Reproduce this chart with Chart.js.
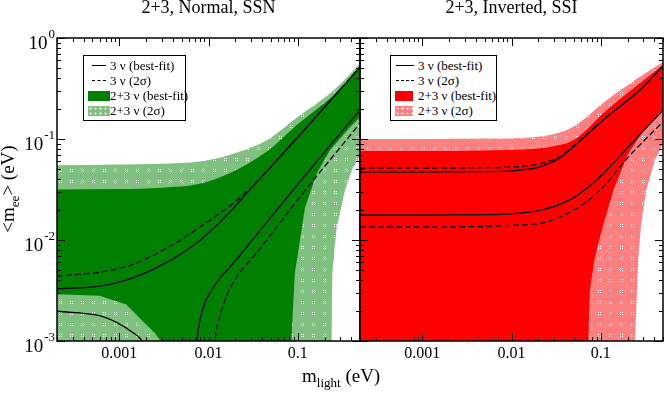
<!DOCTYPE html>
<html>
<head>
<meta charset="utf-8">
<script src="https://cdn.jsdelivr.net/npm/chart.js@4.4.0/dist/chart.umd.min.js"></script>
<style>
  html, body { margin: 0; padding: 0; background: #fff; }
  #wrap { position: relative; width: 664px; height: 394px; overflow: hidden;
          font-family: "Liberation Serif", "Times New Roman", serif; color: #000; }
  canvas { position: absolute; left: 0; top: 0; }
  .ptitle { position: absolute; top: -3px; width: 303px; text-align: center; font-size: 18px; }
  #ylabel { position: absolute; left: -52px; top: 178px; width: 120px; text-align: center;
            font-size: 19px; transform: rotate(-90deg); white-space: nowrap; }
  #xlabel { position: absolute; left: 302px; top: 365px; font-size: 19px; white-space: nowrap; }
  sub { font-size: 13px; vertical-align: -5px; line-height: 0; }
  .legend { position: absolute; border: 1px solid #000; background: #fff; font-size: 13px; box-sizing: border-box; }
  .row { position: absolute; height: 15px; line-height: 15px; white-space: nowrap; }
  .sw { position: absolute; }
  .solid { height: 0; border-top: 1.5px solid #000; }
  .dash { height: 0; border-top: 1.5px dashed #000; }
</style>
</head>
<body>
<div id="wrap">
  <canvas id="normalChart" width="664" height="394"></canvas>
  <canvas id="invertedChart" width="664" height="394"></canvas>
  <div class="ptitle" style="left:57px">2+3, Normal, SSN</div>
  <div class="ptitle" style="left:360px">2+3, Inverted, SSI</div>
  <div id="ylabel">&lt;m<sub>ee</sub>&gt; (eV)</div>
  <div id="xlabel">m<sub>light</sub> (eV)</div>
  <div class="legend" id="legendN" style="left:83px; top:55px; width:103px; height:66px;"></div>
  <div class="legend" id="legendI" style="left:390px; top:55px; width:107px; height:66px;"></div>
</div>
<script>
// axis ranges and tick labels
const xMin = 2e-4, xMax = 0.5;
const yMin = 1e-3, yMax = 1;
const xTickValues = [0.001, 0.01, 0.1];
const xTickLabels = ['0.001', '0.01', '0.1'];
const yTickValues = [1, 0.1, 0.01, 0.001];
const yTickExponents = ['0', '-1', '-2', '-3'];

const legendLabels = ['3 \u03bd (best-fit)', '3 \u03bd (2\u03c3)', '2+3 \u03bd (best-fit)', '2+3 \u03bd (2\u03c3)'];

// ---- 2+3, Normal, SSN ----
// shared x for the upper edges of both bands
const nBandTopX = [2e-4, 0.001, 0.003, 0.008, 0.0175, 0.045, 0.1, 0.25, 0.5];
const n2sBandTop = [0.055, 0.056, 0.057, 0.06, 0.07, 0.097, 0.165, 0.3, 0.56];
const nBfBandTop = [0.0316, 0.032, 0.033, 0.036, 0.046, 0.075, 0.14, 0.27, 0.52];
// lower edges (5e-4 = below the plot)
const n2sBandLowX = [2e-4, 0.24, 0.24, 0.245, 0.274, 0.339, 0.416, 0.5];
const n2sBandLow = [5e-4, 5e-4, 0.001, 0.0047, 0.0133, 0.031, 0.0525, 0.066];
const nBfBandLowX = [2e-4, 6e-4, 0.0012, 0.0018, 0.0025, 0.0029, 0.003, 0.085, 0.0855, 0.093, 0.121, 0.164, 0.23, 0.385, 0.5];
const nBfBandLow = [0.0029, 0.0028, 0.0023, 0.0016, 0.0012, 0.001, 5e-4, 5e-4, 0.0011, 0.0047, 0.021, 0.0458, 0.0774, 0.131, 0.164];
// 3 nu curves
const nFitUpX = [2e-4, 6e-4, 0.0014, 0.0034, 0.008, 0.0174, 0.0287, 0.1, 0.5];
const nFitUp = [0.0033, 0.0035, 0.0042, 0.006, 0.0099, 0.0189, 0.031, 0.104, 0.515];
const n2sUpX = [2e-4, 6e-4, 0.0014, 0.0034, 0.008, 0.0188, 0.03, 0.1, 0.5];
const n2sUp = [0.0044, 0.0048, 0.0057, 0.0083, 0.0134, 0.023, 0.033, 0.104, 0.515];
const nFitLeftX = [2e-4, 6e-4, 9.4e-4, 0.0014, 0.0018, 0.0021];
const nFitLeft = [0.00197, 0.00178, 0.00152, 0.00122, 0.001, 0.0007];
const nFitLowX = [0.0072, 0.0074, 0.008, 0.0091, 0.0109, 0.0134, 0.0174, 0.04, 0.0885, 0.2, 0.5];
const nFitLow = [0.0007, 0.001, 0.0016, 0.0024, 0.0032, 0.0042, 0.0054, 0.0132, 0.031, 0.074, 0.193];
const n2sLowX = [0.0115, 0.0118, 0.013, 0.0145, 0.0174, 0.04, 0.1, 0.5];
const n2sLow = [0.0007, 0.001, 0.0016, 0.0022, 0.0033, 0.0087, 0.025, 0.143];

// ---- 2+3, Inverted, SSI ----
const iBandTopX = [2e-4, 0.001, 0.005, 0.0148, 0.03, 0.0493, 0.1166, 0.275, 0.5];
const i2sBandTop = [0.1, 0.1, 0.101, 0.103, 0.112, 0.132, 0.242, 0.413, 0.58];
const iBfBandTop = [0.076, 0.076, 0.077, 0.079, 0.085, 0.097, 0.193, 0.357, 0.54];
const i2sBandLowX = [2e-4, 0.242, 0.242, 0.264, 0.284, 0.324, 0.4, 0.5];
const i2sBandLow = [5e-4, 5e-4, 0.001, 0.0066, 0.0142, 0.031, 0.06, 0.09];
const iBfBandLowX = [2e-4, 0.072, 0.0725, 0.0757, 0.0854, 0.107, 0.139, 0.2, 0.3, 0.5];
const iBfBandLow = [5e-4, 5e-4, 0.001, 0.0032, 0.0066, 0.0142, 0.031, 0.07, 0.12, 0.2];
const iFitUpX = [2e-4, 0.001, 0.005, 0.0089, 0.0208, 0.035, 0.049, 0.117, 0.275, 0.5];
const iFitUp = [0.047, 0.047, 0.0475, 0.048, 0.053, 0.065, 0.083, 0.165, 0.305, 0.53];
const i2sUp = [0.0515, 0.0515, 0.052, 0.0525, 0.057, 0.067, 0.085, 0.166, 0.305, 0.53];
const iFitLowX = [2e-4, 0.001, 0.005, 0.01, 0.0208, 0.049, 0.098, 0.2, 0.5];
const iFitLow = [0.0177, 0.0177, 0.0178, 0.0182, 0.0196, 0.026, 0.042, 0.082, 0.193];
const i2sLow = [0.0135, 0.0135, 0.0136, 0.014, 0.0146, 0.0196, 0.031, 0.065, 0.148];

const colors = {
    normal: { dark: '#008000', light: '#80c080' },
    inverted: { dark: '#ff0000', light: '#ff8080' }
};

// light fill with small white dots, like the grace pattern
function dotPattern(base) {
    const c = document.createElement('canvas');
    c.width = 11; c.height = 11;
    const g = c.getContext('2d');
    g.fillStyle = base;
    g.fillRect(0, 0, 11, 11);
    g.fillStyle = '#fff';
    g.fillRect(4, 4, 1, 1); g.fillRect(6, 4, 1, 1);
    g.fillRect(4, 6, 1, 1); g.fillRect(6, 6, 1, 1);
    return g.createPattern(c, 'repeat');
}

function pts(xs, ys) {
    return xs.map((x, i) => ({ x: x, y: ys[i] }));
}

function band(topX, top, lowX, low, color) {
    return [
        { data: pts(topX, top), borderWidth: 0, fill: '+1', backgroundColor: color, cubicInterpolationMode: 'monotone' },
        { data: pts(lowX, low), borderWidth: 0, fill: false, tension: 0 }
    ];
}

function curve(xs, ys, dashed) {
    return {
        data: pts(xs, ys), borderColor: '#000', borderWidth: 1.3,
        borderDash: dashed ? [6, 3] : [], fill: false, cubicInterpolationMode: 'monotone'
    };
}

// all 1..9 x 10^n positions inside a range
function logTicks(min, max) {
    const out = [];
    for (let d = Math.floor(Math.log10(min)); d <= Math.ceil(Math.log10(max)); d++) {
        for (let k = 1; k <= 9; k++) {
            const v = k * Math.pow(10, d);
            if (v >= min * 0.999 && v <= max * 1.001) out.push({ v: v, major: k === 1 });
        }
    }
    return out;
}

// frame, inward ticks and tick labels
const framePlugin = {
    id: 'frame',
    afterDatasetsDraw(chart, args, opts) {
        const ctx = chart.ctx;
        const a = chart.chartArea;
        const xs = chart.scales.x, ys = chart.scales.y;
        ctx.save();
        ctx.strokeStyle = '#000';
        ctx.lineWidth = 1;
        ctx.beginPath();
        logTicks(xMin, xMax).forEach(t => {
            const px = Math.round(xs.getPixelForValue(t.v)) + 0.5;
            const len = t.major ? 8 : 4;
            ctx.moveTo(px, a.bottom); ctx.lineTo(px, a.bottom - len);
            ctx.moveTo(px, a.top); ctx.lineTo(px, a.top + len);
        });
        logTicks(yMin, yMax).forEach(t => {
            const py = Math.round(ys.getPixelForValue(t.v)) + 0.5;
            const len = t.major ? 8 : 4;
            ctx.moveTo(a.left, py); ctx.lineTo(a.left + len, py);
            ctx.moveTo(a.right, py); ctx.lineTo(a.right - len, py);
        });
        ctx.stroke();
        ctx.lineWidth = 1.5;
        ctx.strokeRect(a.left, a.top, a.right - a.left, a.bottom - a.top);

        ctx.fillStyle = '#000';
        ctx.font = '16px "Liberation Serif"';
        ctx.textAlign = 'center';
        ctx.textBaseline = 'middle';
        xTickValues.forEach((v, i) => {
            ctx.fillText(xTickLabels[i], xs.getPixelForValue(v), a.bottom + 13);
        });
        if (opts.yLabels) {
            yTickValues.forEach((v, i) => {
                const py = ys.getPixelForValue(v);
                ctx.font = '13px "Liberation Serif"';
                ctx.textAlign = 'right';
                ctx.fillText(yTickExponents[i], a.left - 2, py - 3);
                const ew = ctx.measureText(yTickExponents[i]).width;
                ctx.font = '19px "Liberation Serif"';
                ctx.fillText('10', a.left - 3 - ew, py + 6);
            });
        }
        ctx.restore();
    }
};

function makeChart(id, padLeft, padRight, c, curves, yLabels) {
    const datasets = curves
        .concat(band(c.topX, c.bfTop, c.bfLowX, c.bfLow, c.dark))
        .concat(band(c.topX, c.s2Top, c.s2LowX, c.s2Low, dotPattern(c.light)));
    return new Chart(document.getElementById(id), {
        type: 'line',
        data: { datasets: datasets },
        options: {
            responsive: false,
            animation: false,
            layout: { padding: { left: padLeft, right: padRight, top: 38, bottom: 53 } },
            elements: { point: { radius: 0 } },
            plugins: { legend: { display: false }, tooltip: { enabled: false }, frame: { yLabels: yLabels } },
            scales: {
                x: { type: 'logarithmic', min: xMin, max: xMax, display: false },
                y: { type: 'logarithmic', min: yMin, max: yMax, display: false }
            }
        },
        plugins: [framePlugin]
    });
}

makeChart('normalChart', 57, 304, {
    topX: nBandTopX, bfTop: nBfBandTop, s2Top: n2sBandTop,
    bfLowX: nBfBandLowX, bfLow: nBfBandLow, s2LowX: n2sBandLowX, s2Low: n2sBandLow,
    dark: colors.normal.dark, light: colors.normal.light
}, [
    curve(nFitUpX, nFitUp, false),
    curve(n2sUpX, n2sUp, true),
    curve(nFitLeftX, nFitLeft, false),
    curve(nFitLowX, nFitLow, false),
    curve(n2sLowX, n2sLow, true)
], true);

makeChart('invertedChart', 360, 1, {
    topX: iBandTopX, bfTop: iBfBandTop, s2Top: i2sBandTop,
    bfLowX: iBfBandLowX, bfLow: iBfBandLow, s2LowX: i2sBandLowX, s2Low: i2sBandLow,
    dark: colors.inverted.dark, light: colors.inverted.light
}, [
    curve(iFitUpX, iFitUp, false),
    curve(iFitUpX, i2sUp, true),
    curve(iFitLowX, iFitLow, false),
    curve(iFitLowX, i2sLow, true)
], false);

// legends (html)
function buildLegend(id, pal, lineLeft, lineW, swLeft, swW, textLeft) {
    const box = document.getElementById(id);
    legendLabels.forEach((label, i) => {
        const row = document.createElement('div');
        row.className = 'row';
        row.style.top = (2 + i * 15) + 'px';
        row.style.left = textLeft + 'px';
        row.textContent = label;
        box.appendChild(row);
        const sw = document.createElement('div');
        sw.className = 'sw';
        if (i < 2) {
            sw.classList.add(i === 0 ? 'solid' : 'dash');
            sw.style.left = lineLeft + 'px';
            sw.style.width = lineW + 'px';
            sw.style.top = (9 + i * 15) + 'px';
        } else {
            sw.style.left = swLeft + 'px';
            sw.style.width = swW + 'px';
            sw.style.top = (5 + i * 15) + 'px';
            sw.style.height = '10px';
            if (i === 2) {
                sw.style.background = pal.dark;
            } else {
                sw.style.backgroundColor = pal.light;
                sw.style.backgroundImage = 'radial-gradient(#fff 0.8px, transparent 1.2px)';
                sw.style.backgroundSize = '5px 5px';
            }
        }
        box.appendChild(sw);
    });
}
buildLegend('legendN', colors.normal, 8, 14, 4, 22, 26);
buildLegend('legendI', colors.inverted, 5, 18, 4, 18, 27);
</script>
</body>
</html>
